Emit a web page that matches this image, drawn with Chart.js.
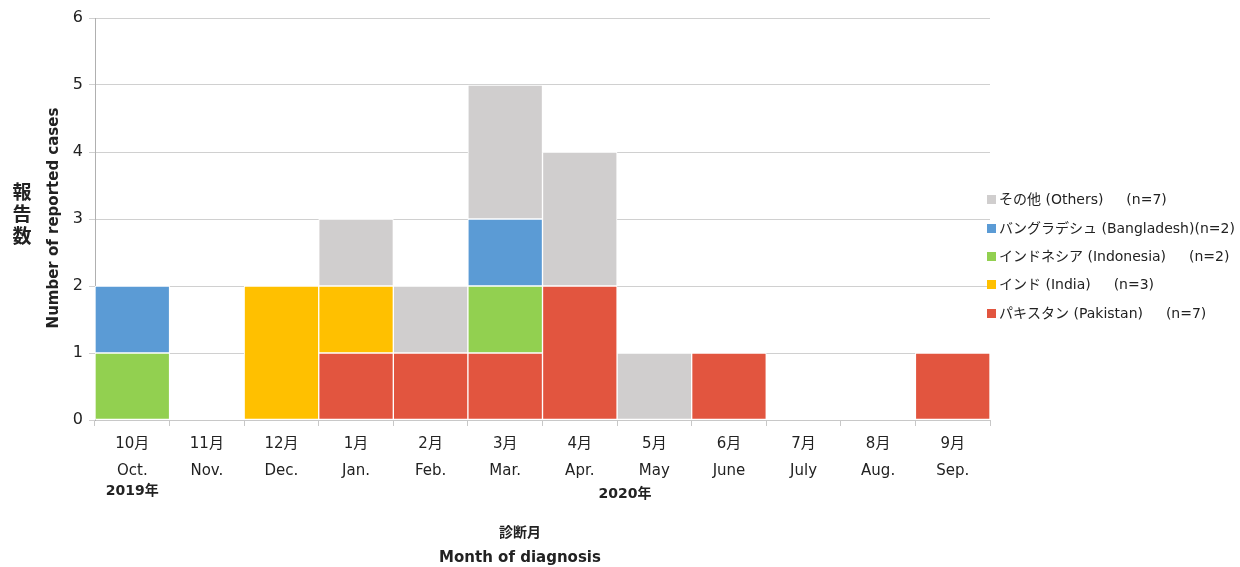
<!DOCTYPE html>
<html>
<head>
<meta charset="utf-8">
<script src="https://cdn.jsdelivr.net/npm/chart.js@4"></script>
<style>
  html, body { margin: 0; padding: 0; background: #fff; }
  #wrap { width: 1240px; height: 567px; position: relative; }
</style>
</head>
<body>
<div id="wrap"><canvas id="myChart" width="1240" height="567"></canvas></div>
<script>
// months (JP / EN)
const monthsJa = ['10月', '11月', '12月', '1月', '2月', '3月', '4月', '5月', '6月', '7月', '8月', '9月']
const monthsEn = ['Oct.', 'Nov.', 'Dec.', 'Jan.', 'Feb.', 'Mar.', 'Apr.', 'May', 'June', 'July', 'Aug.', 'Sep.']

// cases per month, by country
const pakistan   = [0, 0, 0, 1, 1, 1, 2, 0, 1, 0, 0, 1]
const india      = [0, 0, 2, 1, 0, 0, 0, 0, 0, 0, 0, 0]
const indonesia  = [1, 0, 0, 0, 0, 1, 0, 0, 0, 0, 0, 0]
const bangladesh = [1, 0, 0, 0, 0, 1, 0, 0, 0, 0, 0, 0]
const others     = [0, 0, 0, 1, 1, 2, 2, 1, 0, 0, 0, 0]

const yTicks = [0, 1, 2, 3, 4, 5, 6]

const FONT = '"DejaVu Sans", Verdana, "Noto Sans CJK JP", sans-serif'
const TXT = '#222'

const dataSet = [
    {label: 'パキスタン (Pakistan)\u3000  (n=7)', data: pakistan, backgroundColor: '#E2553F'},
    {label: 'インド (India)\u3000  (n=3)', data: india, backgroundColor: '#FFC000'},
    {label: 'インドネシア (Indonesia)\u3000  (n=2)', data: indonesia, backgroundColor: '#92D050'},
    {label: 'バングラデシュ (Bangladesh)(n=2)', data: bangladesh, backgroundColor: '#5B9BD5'},
    {label: 'その他 (Others)\u3000  (n=7)', data: others, backgroundColor: '#D0CECE'},
].map((d) => Object.assign(d, {borderColor: '#fff', borderWidth: 1, borderSkipped: false,
    barPercentage: 1, categoryPercentage: 1}))

// legend, year labels and axis titles
const extras = {
    id: 'extras',
    afterDraw(chart) {
        const ctx = chart.ctx
        const x = chart.scales.x
        ctx.save()
        ctx.fillStyle = TXT
        ctx.textBaseline = 'middle'

        // legend (top = last dataset)
        const rows = [200, 229, 257, 285, 314]
        ctx.font = '14px ' + FONT
        ctx.textAlign = 'left'
        chart.data.datasets.slice().reverse().forEach((ds, i) => {
            ctx.fillStyle = ds.backgroundColor
            ctx.fillRect(987, rows[i] - 5, 9, 9)
            ctx.fillStyle = TXT
            ctx.fillText(ds.label, 999, rows[i])
        })

        // years
        ctx.font = 'bold 14px ' + FONT
        ctx.textAlign = 'center'
        ctx.fillText('2019年', x.getPixelForValue(0), 491)
        ctx.fillText('2020年', 625, 494)

        // x title
        ctx.fillText('診断月', 520, 533)
        ctx.font = 'bold 15px ' + FONT
        ctx.fillText('Month of diagnosis', 520, 558)

        // y titles
        ctx.font = 'bold 19px ' + FONT
        ctx.fillText('報', 22, 194)
        ctx.fillText('告', 22, 216)
        ctx.fillText('数', 22, 238)
        ctx.translate(54, 218)
        ctx.rotate(-Math.PI / 2)
        ctx.font = 'bold 15px ' + FONT
        ctx.fillText('Number of reported cases', 0, 0)
        ctx.restore()
    }
}

const ctx = document.getElementById('myChart')
const myChart = new Chart(ctx, {
    type: 'bar',
    data: {
        labels: monthsJa.map((m, i) => [m, monthsEn[i]]),
        datasets: dataSet
    },
    plugins: [extras],
    options: {
        responsive: false,
        animation: false,
        layout: {padding: {top: 18, right: 250, left: 0, bottom: 0}},
        plugins: {
            legend: {display: false},
            tooltip: {enabled: false}
        },
        scales: {
            x: {
                stacked: true,
                afterFit: (s) => { s.height = 147 },
                border: {color: '#c8c8c8'},
                grid: {offset: true, drawOnChartArea: false, drawTicks: true, tickLength: 6, color: '#c8c8c8'},
                ticks: {color: TXT, padding: 5, maxRotation: 0, autoSkip: false,
                    font: {family: FONT, size: 15, lineHeight: 1.8}}
            },
            y: {
                stacked: true,
                min: 0,
                max: 6,
                afterFit: (s) => { s.width = 95 },
                afterBuildTicks: (s) => { s.ticks = yTicks.map((v) => ({value: v})) },
                border: {color: '#b0b0b0'},
                grid: {color: '#d0d0d0', tickLength: 6},
                ticks: {color: TXT, padding: 6, font: {family: FONT, size: 16}}
            }
        }
    }
})
</script>
</body>
</html>
